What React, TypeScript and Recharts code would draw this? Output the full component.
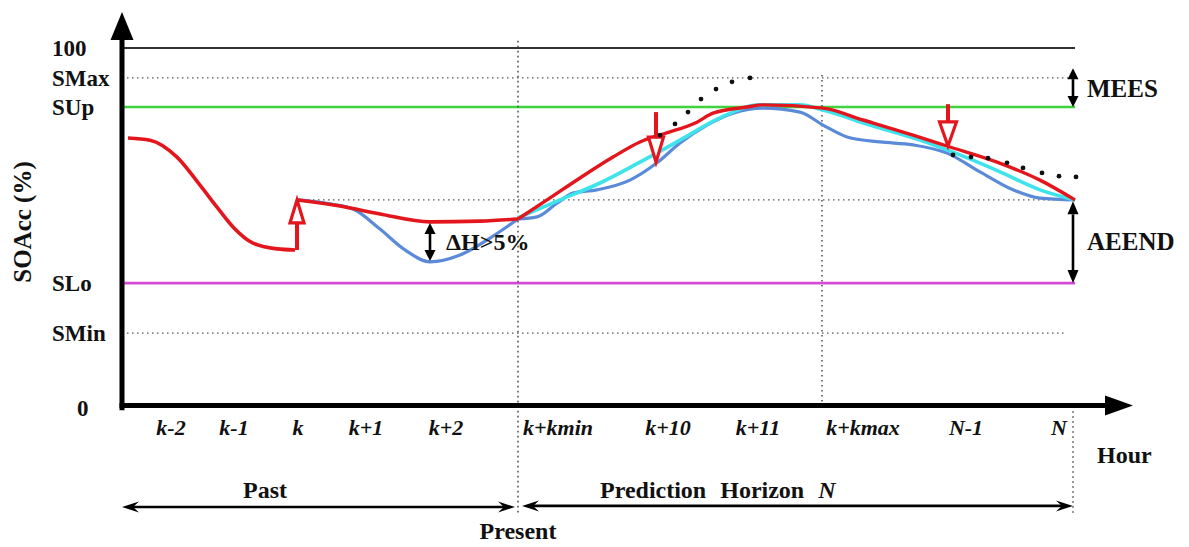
import React from "react";
import { ComposedChart, Line, Scatter, XAxis, YAxis, ReferenceLine } from "recharts";

const FONT = '"Liberation Serif", "Times New Roman", Times, serif';
const W = 1189;
const H = 547;
const AXIS_BOTTOM = 408;

const RED = "#e3161d";
const BLUE = "#5a8ad8";
const CYAN = "#3ee3ec";
const GREEN = "#3fd43f";
const MAGENTA = "#d64bd6";
const DOT_GREY = "#555";

// SOAcc levels (%)
const LEVEL_100 = 100;
const S_MAX = 91.7;
const S_UP = 83.6;
const S_MID = 57.8;
const S_LO = 34.7;
const S_MIN = 20.8;

const yTicks = [0, S_MIN, S_LO, S_UP, S_MAX, LEVEL_100];
const yTickLabels = ["0", "SMin", "SLo", "SUp", "SMax", "100"];

// hour positions
const K_STEP = 3.52;
const PRESENT = 7.92;
const K_MAX = 14.0;
const HORIZON_N = 19.06;

const xTicks = [0.98, 2.24, 3.52, 4.88, 6.48, 8.72, 10.92, 12.72, 14.82, 16.88, 18.74];
const xTickLabels = ["k-2", "k-1", "k", "k+1", "k+2", "k+kmin", "k+10", "k+11", "k+kmax", "N-1", "N"];

// past SOAcc, before the charge at k
const redDrop = [
  { x: 0.12, v: 75.0 },
  { x: 0.56, v: 74.4 },
  { x: 1.1, v: 69.7 },
  { x: 1.56, v: 61.9 },
  { x: 1.9, v: 55.8 },
  { x: 2.22, v: 50.3 },
  { x: 2.62, v: 45.8 },
  { x: 3.1, v: 44.2 },
  { x: 3.46, v: 43.9 },
];

const redPast = [
  { x: 3.52, v: 57.8 },
  { x: 4.36, v: 56.1 },
  { x: 5.16, v: 53.9 },
  { x: 6.16, v: 51.7 },
  { x: 7.16, v: 51.9 },
  { x: 7.92, v: 52.5 },
];

const bluePast = [
  { x: 3.52, v: 57.8 },
  { x: 4.16, v: 56.7 },
  { x: 4.66, v: 55.0 },
  { x: 5.16, v: 49.7 },
  { x: 5.66, v: 43.9 },
  { x: 6.16, v: 40.6 },
  { x: 6.76, v: 42.5 },
  { x: 7.36, v: 47.2 },
  { x: 7.92, v: 52.5 },
];

const redPred = [
  { x: 7.92, v: 52.5 },
  { x: 8.5, v: 57.8 },
  { x: 9.16, v: 63.9 },
  { x: 9.82, v: 69.7 },
  { x: 10.36, v: 73.9 },
  { x: 10.7, v: 75.6 },
  { x: 10.96, v: 76.7 },
  { x: 11.5, v: 79.4 },
  { x: 11.82, v: 81.9 },
  { x: 12.5, v: 83.6 },
  { x: 12.82, v: 84.2 },
  { x: 14.02, v: 83.3 },
  { x: 14.82, v: 80.0 },
  { x: 15.82, v: 75.8 },
  { x: 16.56, v: 72.5 },
  { x: 17.5, v: 68.3 },
  { x: 18.36, v: 63.3 },
  { x: 19.06, v: 57.8 },
];

const bluePred = [
  { x: 7.92, v: 52.5 },
  { x: 8.3, v: 53.1 },
  { x: 8.7, v: 56.9 },
  { x: 9.02, v: 59.7 },
  { x: 9.5, v: 60.6 },
  { x: 10.16, v: 63.3 },
  { x: 10.7, v: 68.1 },
  { x: 11.16, v: 73.6 },
  { x: 11.7, v: 78.6 },
  { x: 12.22, v: 81.9 },
  { x: 12.82, v: 83.3 },
  { x: 13.56, v: 82.2 },
  { x: 14.02, v: 78.6 },
  { x: 14.5, v: 75.3 },
  { x: 15.16, v: 73.9 },
  { x: 15.82, v: 73.1 },
  { x: 16.5, v: 70.8 },
  { x: 17.16, v: 65.6 },
  { x: 17.82, v: 60.6 },
  { x: 18.36, v: 58.3 },
  { x: 19.06, v: 57.8 },
];

const cyanPred = [
  { x: 7.92, v: 52.8 },
  { x: 8.76, v: 57.8 },
  { x: 9.56, v: 62.5 },
  { x: 10.36, v: 68.3 },
  { x: 11.16, v: 74.4 },
  { x: 11.96, v: 80.6 },
  { x: 12.76, v: 84.2 },
  { x: 13.56, v: 84.2 },
  { x: 14.02, v: 82.8 },
  { x: 14.96, v: 78.6 },
  { x: 15.96, v: 74.4 },
  { x: 16.76, v: 70.3 },
  { x: 17.56, v: 65.6 },
  { x: 18.36, v: 60.6 },
  { x: 19.06, v: 57.8 },
];

const dotsRise = [
  { x: 10.76, v: 75.8 },
  { x: 11.06, v: 78.9 },
  { x: 11.32, v: 82.2 },
  { x: 11.58, v: 85.8 },
  { x: 11.88, v: 88.6 },
  { x: 12.2, v: 90.6 },
  { x: 12.56, v: 91.7 },
];

const dotsFall = [
  { x: 16.62, v: 70.3 },
  { x: 16.98, v: 69.7 },
  { x: 17.32, v: 69.4 },
  { x: 17.7, v: 68.1 },
  { x: 18.02, v: 66.7 },
  { x: 18.4, v: 65.3 },
  { x: 18.74, v: 64.4 },
  { x: 19.08, v: 64.2 },
];

const textStyle = { fontFamily: FONT, fontWeight: 700, fill: "#111" } as const;

function headPoints(tx: number, ty: number, fx: number, fy: number, len: number, half: number, notch = 0) {
  const d = Math.hypot(tx - fx, ty - fy) || 1;
  const ux = (tx - fx) / d;
  const uy = (ty - fy) / d;
  const bx = tx - ux * len;
  const by = ty - uy * len;
  const nx = -uy * half;
  const ny = ux * half;
  const pts: number[][] = [[tx, ty], [bx + nx, by + ny]];
  if (notch) pts.push([tx - ux * len * (1 - notch), ty - uy * len * (1 - notch)]);
  pts.push([bx - nx, by - ny]);
  const innerX = notch ? tx - ux * len * (1 - notch) : bx;
  const innerY = notch ? ty - uy * len * (1 - notch) : by;
  return { bx: innerX, by: innerY, points: pts.map((p) => p.join(",")).join(" ") };
}

type Extra = (p: any) => React.ReactNode;

const axisArrow = (len: number, half: number, extra?: Extra) => (p: any) => {
  const h = headPoints(p.x2, p.y2, p.x1, p.y1, len, half);
  return (
    <g>
      <line x1={p.x1} y1={p.y1} x2={h.bx} y2={h.by} stroke="#000" strokeWidth={5} />
      <polygon points={h.points} fill="#000" />
      {extra ? extra(p) : null}
    </g>
  );
};

const doubleArrow = (len: number, half: number, width: number, extra?: Extra, notch = 0) => (p: any) => {
  const a = headPoints(p.x1, p.y1, p.x2, p.y2, len, half, notch);
  const b = headPoints(p.x2, p.y2, p.x1, p.y1, len, half, notch);
  return (
    <g>
      <line x1={a.bx} y1={a.by} x2={b.bx} y2={b.by} stroke="#000" strokeWidth={width} />
      <polygon points={a.points} fill="#000" />
      <polygon points={b.points} fill="#000" />
      {extra ? extra(p) : null}
    </g>
  );
};

const hollowArrow = (len: number, half: number) => (p: any) => {
  const h = headPoints(p.x2, p.y2, p.x1, p.y1, len, half);
  return (
    <g>
      <line x1={p.x1} y1={p.y1} x2={h.bx} y2={h.by} stroke={RED} strokeWidth={4} />
      <polygon points={h.points} fill="#fff" stroke={RED} strokeWidth={3.2} strokeLinejoin="miter" />
    </g>
  );
};

const dottedWithText = (text?: string) => (p: any) => (
  <g>
    <line x1={p.x1} y1={p.y1} x2={p.x2} y2={p.y2} stroke={DOT_GREY} strokeWidth={1.6} strokeDasharray="1.6 3.4" />
    {text ? (
      <text x={p.x2} y={p.y2 + 26} textAnchor="middle" fontSize={24} {...textStyle}>
        {text}
      </text>
    ) : null}
  </g>
);

function XTick(props: any) {
  const i = xTicks.indexOf(props.payload.value);
  return (
    <text x={props.x} y={AXIS_BOTTOM + 27} textAnchor="middle" fontSize={22} fontStyle="italic" {...textStyle}>
      {xTickLabels[i]}
    </text>
  );
}

function YTick(props: any) {
  const i = yTicks.indexOf(props.payload.value);
  const zero = props.payload.value === 0;
  return (
    <text x={zero ? 77 : 52} y={props.y} dy={8} textAnchor="start" fontSize={23} {...textStyle}>
      {yTickLabels[i]}
    </text>
  );
}

export default function App() {
  return (
    <div style={{ position: "absolute", left: 0, top: 0, width: W, height: H, background: "#fff" }}>
      <ComposedChart width={W} height={H} margin={{ top: 12, right: 47, bottom: 0, left: 0 }}>
        <XAxis
          type="number"
          dataKey="x"
          domain={[0, 20.4]}
          allowDataOverflow
          ticks={xTicks}
          interval={0}
          tick={(p: any) => <XTick {...p} />}
          axisLine={false}
          tickLine={false}
          height={139}
        />
        <YAxis
          type="number"
          dataKey="v"
          domain={[0, 110]}
          allowDataOverflow
          ticks={yTicks}
          interval={0}
          tick={(p: any) => <YTick {...p} />}
          axisLine={false}
          tickLine={false}
          width={122}
          label={{
            content: () => (
              <text transform="translate(31,222) rotate(-90)" textAnchor="middle" fontSize={25} {...textStyle}>
                SOAcc (%)
              </text>
            ),
          }}
        />

        {/* level lines */}
        <ReferenceLine segment={[{ x: 0, y: LEVEL_100 }, { x: HORIZON_N, y: LEVEL_100 }]} stroke="#333" strokeWidth={2} />
        <ReferenceLine segment={[{ x: 0, y: S_MAX }, { x: HORIZON_N, y: S_MAX }]} stroke={DOT_GREY} strokeWidth={1.4} strokeDasharray="1.5 3.5" />
        <ReferenceLine segment={[{ x: 0, y: S_UP }, { x: HORIZON_N, y: S_UP }]} stroke={GREEN} strokeWidth={2.6} />
        <ReferenceLine segment={[{ x: K_STEP, y: S_MID }, { x: HORIZON_N, y: S_MID }]} stroke={DOT_GREY} strokeWidth={1.4} strokeDasharray="1.5 3.5" />
        <ReferenceLine segment={[{ x: 0, y: S_LO }, { x: HORIZON_N, y: S_LO }]} stroke={MAGENTA} strokeWidth={2.6} />
        <ReferenceLine segment={[{ x: 0, y: S_MIN }, { x: 18.86, y: S_MIN }]} stroke={DOT_GREY} strokeWidth={1.4} strokeDasharray="1.5 3.5" />

        {/* vertical markers */}
        <ReferenceLine segment={[{ x: PRESENT, y: 102 }, { x: PRESENT, y: -29.2 }]} ifOverflow="visible" shape={dottedWithText("Present")} />
        <ReferenceLine segment={[{ x: K_MAX, y: 92.5 }, { x: K_MAX, y: 0.5 }]} shape={dottedWithText()} />
        <ReferenceLine segment={[{ x: HORIZON_N - 0.04, y: 0.5 }, { x: HORIZON_N - 0.04, y: -29.2 }]} ifOverflow="visible" shape={dottedWithText()} />

        {/* curves */}
        <Line data={redDrop} dataKey="v" type="monotone" stroke={RED} strokeWidth={3.6} dot={false} isAnimationActive={false} />
        <Line data={bluePast} dataKey="v" type="monotone" stroke={BLUE} strokeWidth={3.2} dot={false} isAnimationActive={false} />
        <Line data={redPast} dataKey="v" type="monotone" stroke={RED} strokeWidth={3.6} dot={false} isAnimationActive={false} />
        <Line data={bluePred} dataKey="v" type="monotone" stroke={BLUE} strokeWidth={3.2} dot={false} isAnimationActive={false} />
        <Line data={cyanPred} dataKey="v" type="monotone" stroke={CYAN} strokeWidth={3.6} dot={false} isAnimationActive={false} />
        <Line data={redPred} dataKey="v" type="monotone" stroke={RED} strokeWidth={3.4} dot={false} isAnimationActive={false} />

        <Scatter data={dotsRise} isAnimationActive={false} shape={(p: any) => <circle cx={p.cx} cy={p.cy} r={2.4} fill="#111" />} />
        <Scatter data={dotsFall} isAnimationActive={false} shape={(p: any) => <circle cx={p.cx} cy={p.cy} r={2.4} fill="#111" />} />

        {/* red correction arrows */}
        <ReferenceLine segment={[{ x: 3.5, y: 43.9 }, { x: 3.5, y: 57.8 }]} shape={hollowArrow(23, 7)} />
        <ReferenceLine segment={[{ x: 10.68, y: 82.2 }, { x: 10.68, y: 68.3 }]} shape={hollowArrow(25, 7.5)} />
        <ReferenceLine segment={[{ x: 16.52, y: 84.4 }, { x: 16.52, y: 72.8 }]} shape={hollowArrow(24, 8.5)} />

        {/* measurement arrows */}
        <ReferenceLine
          segment={[{ x: 6.16, y: 51.4 }, { x: 6.16, y: 40.8 }]}
          shape={doubleArrow(11, 5.5, 2.6, (p) => (
            <text x={p.x1 + 16} y={(p.y1 + p.y2) / 2 + 8} fontSize={24} {...textStyle}>
              ΔH&gt;5%
            </text>
          ))}
        />
        <ReferenceLine
          segment={[{ x: 19.02, y: 94.4 }, { x: 19.02, y: 83.6 }]}
          shape={doubleArrow(11, 5.5, 2.6, (p) => (
            <text x={p.x1 + 14} y={(p.y1 + p.y2) / 2 + 9} fontSize={25} {...textStyle}>
              MEES
            </text>
          ))}
        />
        <ReferenceLine
          segment={[{ x: 19.02, y: 57.4 }, { x: 19.02, y: 34.7 }]}
          shape={doubleArrow(13, 5.5, 2.6, (p) => (
            <text x={p.x1 + 14} y={(p.y1 + p.y2) / 2 + 8} fontSize={25} {...textStyle}>
              AEEND
            </text>
          ))}
        />

        {/* timeline arrows */}
        <ReferenceLine
          segment={[{ x: 0, y: -27.5 }, { x: 7.86, y: -27.5 }]}
          ifOverflow="visible"
          shape={doubleArrow(17, 5.5, 2.6, (p) => (
            <text x={p.x1 + 143} y={p.y1 - 9} textAnchor="middle" fontSize={24} {...textStyle}>
              Past
            </text>
          ), 0.35)}
        />
        <ReferenceLine
          segment={[{ x: 8.0, y: -27.2 }, { x: 19.02, y: -27.2 }]}
          ifOverflow="visible"
          shape={doubleArrow(17, 5.5, 2.6, (p) => (
            <text x={p.x1 + 78} y={p.y1 - 8} fontSize={24} {...textStyle}>
              <tspan>Prediction</tspan>
              <tspan dx={14}>Horizon</tspan>
              <tspan dx={14} fontStyle="italic">N</tspan>
            </text>
          ), 0.35)}
        />

        {/* axes with arrow heads */}
        <ReferenceLine segment={[{ x: 0, y: -0.6 }, { x: 0, y: 110 }]} ifOverflow="visible" shape={axisArrow(28, 11.5)} />
        <ReferenceLine
          segment={[{ x: -0.05, y: 0.7 }, { x: 20.22, y: 0.7 }]}
          ifOverflow="visible"
          shape={axisArrow(28, 10, (p) => (
            <text x={p.x2 - 36} y={p.y2 + 58} fontSize={24} {...textStyle}>
              Hour
            </text>
          ))}
        />
      </ComposedChart>
    </div>
  );
}
